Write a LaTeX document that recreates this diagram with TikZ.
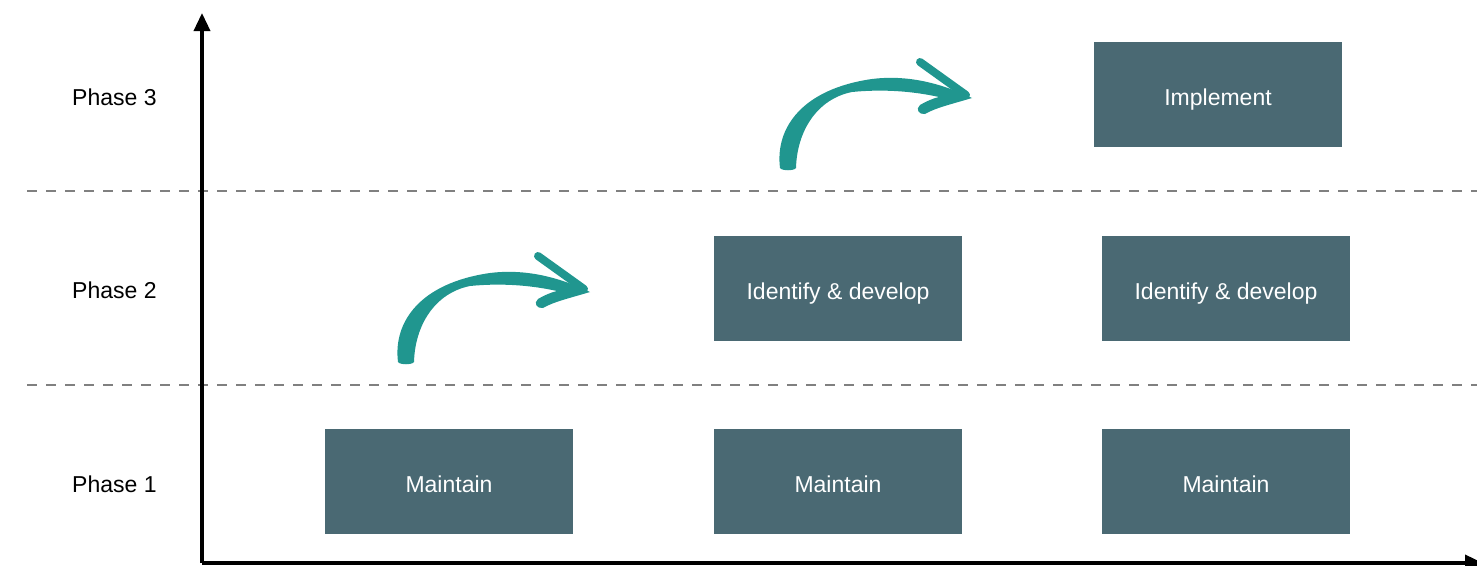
\documentclass[tikz,border=0pt]{standalone}
\usepackage{fontspec}
\setmainfont{Liberation Sans}
\usetikzlibrary{arrows.meta}
\definecolor{boxcol}{HTML}{4A6973}
\definecolor{arrowcol}{HTML}{20968F}
\definecolor{dashcol}{HTML}{808080}
\begin{document}
\begin{tikzpicture}[x=1pt,y=-1pt,
  phasebox/.style={fill=boxcol, text=white, minimum width=248pt, minimum height=105pt, inner sep=0pt,
    text height=21.5pt, text depth=0pt, font=\fontsize{23}{28}\selectfont},
  phaselabel/.style={anchor=west, inner sep=0pt, font=\fontsize{23}{28}\selectfont},
  phasesep/.style={draw=dashcol, line width=2.5pt, dash pattern=on 10pt off 9pt},
  axisline/.style={line width=3.5pt, -{Triangle[length=18pt,width=16pt]}},
  brushfill/.style={fill=arrowcol},
  brushbarb/.style={draw=arrowcol, line width=8pt, line cap=round}]
\useasboundingbox (0,0) rectangle (1477,565);

% dashed separators
\coordinate (d1a) at (27,191);
\coordinate (d1b) at (1477,191);
\coordinate (d2a) at (27,385);
\coordinate (d2b) at (1477,385);
\draw[phasesep] (d1a) -- (d1b);
\draw[phasesep] (d2a) -- (d2b);

% axes
\coordinate (origin) at (202,563);
\coordinate (ytop) at (202,13);
\coordinate (xend) at (1483,563);
\draw[axisline] (origin) -- (ytop);
\draw[axisline] (origin) -- (xend);

% phase labels
\node[phaselabel] (p3) at (72,97) {Phase 3};
\node[phaselabel] (p2) at (72,290) {Phase 2};
\node[phaselabel] (p1) at (72,484) {Phase 1};

% boxes
\node[phasebox] (m1) at (449,481.5) {Maintain};
\node[phasebox] (m2) at (838,481.5) {Maintain};
\node[phasebox] (m3) at (1226,481.5) {Maintain};
\node[phasebox] (i2) at (838,288.5) {Identify \& develop};
\node[phasebox] (i3) at (1226,288.5) {Identify \& develop};
\node[phasebox] (im) at (1218,94.5) {Implement};

% brush arrows
\foreach \dx/\dy in {0/0, 382/-194} {
  \begin{scope}[shift={(\dx,\dy)}]
    \fill[brushfill] (398,362)
      .. controls (393,322) and (420,283) .. (490,273)
      .. controls (530,268) and (565,280) .. (590,292)
      .. controls (570,298) and (553,302) .. (543,308)
      .. controls (537,309) and (533,303) .. (538,299)
      .. controls (545,295) and (552,292) .. (557,291)
      .. controls (530,285) and (500,283) .. (470,286)
      .. controls (435,293) and (415,325) .. (414,362)
      .. controls (412,365) and (400,365) .. (398,362) -- cycle;
    \draw[brushbarb] (538,256) -- (584,289);
  \end{scope}
}
\end{tikzpicture}
\end{document}
